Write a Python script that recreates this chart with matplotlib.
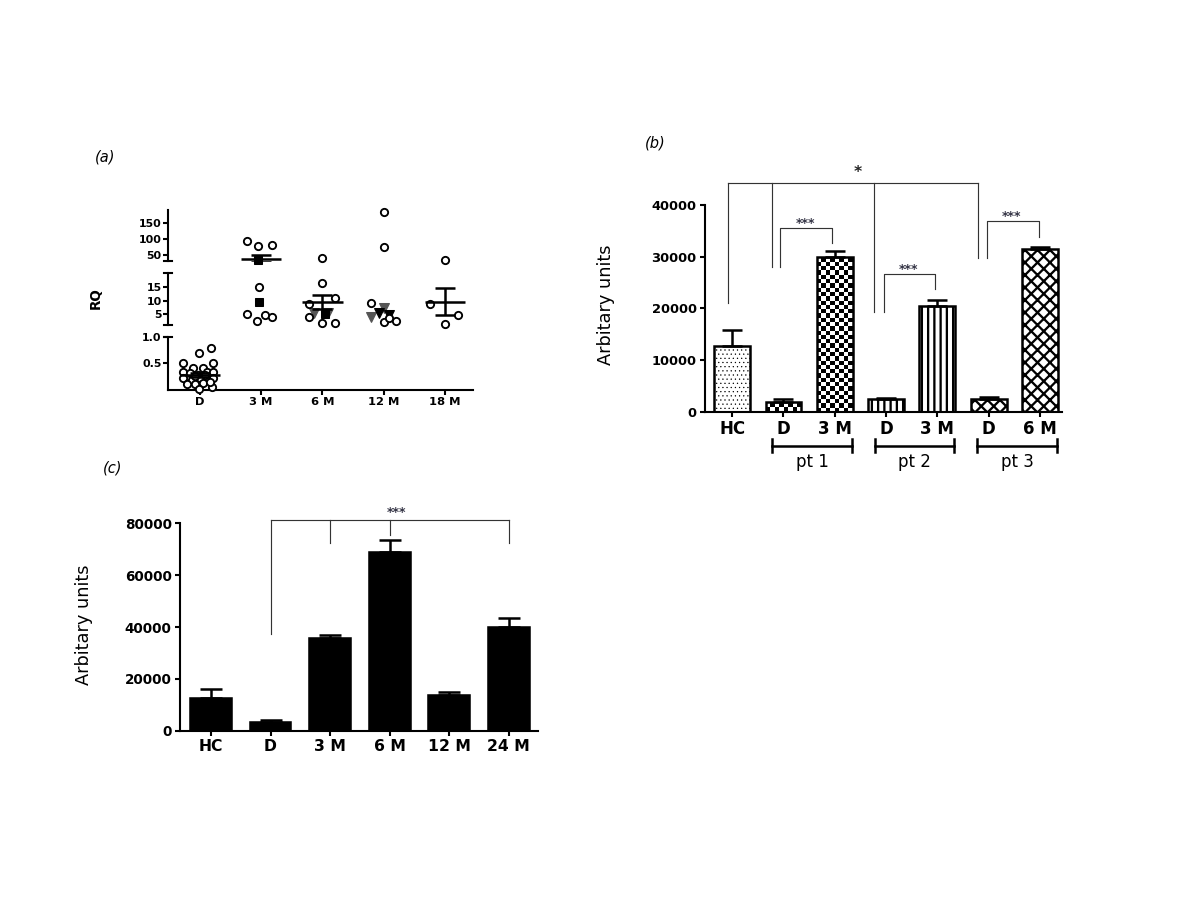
import numpy as np
import matplotlib.pyplot as plt

plt.rcParams['font.family'] = 'DejaVu Sans'
plt.rcParams['hatch.linewidth'] = 2.2
plt.rcParams['axes.linewidth'] = 2.0

# ---------- (a) RQ per time point, broken y axis ----------
a_groups = ['D', '3 M', '6 M', '12 M', '18 M']
a_values = [
    [0.78, 0.69, 0.50, 0.50, 0.40, 0.41, 0.34, 0.31, 0.28, 0.34, 0.34, 0.21, 0.18, 0.21,
     0.21, 0.21, 0.10, 0.10, 0.12, 0.04, 0.02, 0.28, 0.25, 0.14],
    [93, 78, 82, 32, 15.1, 9.3, 4.9, 2.5, 4.7, 4.0],
    [37.7, 16.3, 11.0, 8.6, 5.3, 5.3, 4.9, 4.0, 1.6, 1.6],
    [186, 75, 9.0, 7.1, 4.0, 5.3, 4.7, 2.2, 2.5, 3.5],
    [32.3, 8.6, 4.7, 1.3],
]
# horizontal spread of the points inside a column (category units)
a_offsets = [
    [0.18, -0.02, -0.28, 0.21, -0.11, 0.05, -0.28, -0.16, -0.03, 0.11, 0.21, -0.28, -0.13, 0.0,
     0.13, 0.21, -0.21, -0.08, 0.05, 0.20, -0.02, 0.08, -0.08, 0.16],
    [-0.23, -0.05, 0.18, -0.05, -0.03, -0.03, -0.23, -0.07, 0.07, 0.18],
    [0.0, 0.0, 0.20, -0.21, -0.13, 0.09, 0.05, -0.21, 0.0, 0.20],
    [0.0, 0.0, -0.21, 0.0, -0.21, -0.08, 0.09, 0.0, 0.20, 0.09],
    [0.0, -0.24, 0.22, 0.0],
]
# o = open circle, s = filled square, g = grey triangle, t = black triangle
a_kinds = [
    ['o'] * 24,
    ['o', 'o', 'o', 's', 'o', 's', 'o', 'o', 'o', 'o'],
    ['o', 'o', 'o', 'o', 'g', 'g', 's', 'o', 'o', 'o'],
    ['o', 'o', 'o', 'g', 'g', 't', 't', 'o', 'o', 'o'],
    ['o', 'o', 'o', 'o'],
]
a_means = [0.28, 37, 9.6, None, 9.6]
a_sems = [0.04, 11, 2.6, None, 4.9]

# ---------- (b) patients ----------
b_labels = ['HC', 'D', '3 M', 'D', '3 M', 'D', '6 M']
b_values = [12700, 1950, 30000, 2450, 20500, 2500, 31400]
b_errors = [3100, 450, 1150, 250, 1100, 400, 500]
b_patterns = ['...', 'checker', 'checker', '||', '||', 'xx', 'xx']
b_patients = ['pt 1', 'pt 2', 'pt 3']
b_patient_bars = [(1, 2), (3, 4), (5, 6)]
# significance brackets: (x left, x right, line y, left drop, right drop, text)
b_pairs = [(0.94, 1.94, 35470, 28050, 32570, '***'),
           (2.95, 3.96, 26630, 19340, 23670, '***'),
           (4.97, 5.98, 36890, 29670, 33850, '***')]
b_star_x = [-0.08, 0.78, 2.77, 4.80]
b_star_drop = [21000, 28050, 19340, 29670]
b_star_y = 44180

# ---------- (c) time course ----------
c_labels = ['HC', 'D', '3 M', '6 M', '12 M', '24 M']
c_values = [12700, 3250, 35600, 69000, 13750, 40100]
c_errors = [3250, 850, 1150, 4500, 1150, 3200]
c_star_x = [1, 2, 3, 5]
c_star_drop = [37500, 72450, 75400, 72450]
c_star_y = 81200

fig = plt.figure(figsize=(16, 12), dpi=75)

# ---- panel (a)
seg_pos = [[0.14, 0.5671, 0.2542, 0.0588],
           [0.14, 0.6389, 0.2542, 0.0574],
           [0.14, 0.7103, 0.2542, 0.0563]]
seg_lims = [(0, 1.0), (1, 20), (30, 193)]
seg_ticks = [[0.5, 1.0], [5, 10, 15], [50, 100, 150]]
seg_labels = [['0.5', '1.0'], ['5', '10', '15'], ['50', '100', '150']]
styles = {
    'o': dict(marker='o', mfc='white', mec='k', ms=7, mew=1.8),
    's': dict(marker='s', mfc='k', mec='k', ms=7, mew=1),
    'g': dict(marker='v', mfc='#555555', mec='#555555', ms=9, mew=1),
    't': dict(marker='v', mfc='k', mec='k', ms=9, mew=1),
}

segs = []
for k in range(3):
    ax = fig.add_axes(seg_pos[k])
    ax.set_xlim(-0.52, 4.46)
    ax.set_ylim(*seg_lims[k])
    ax.patch.set_alpha(0)
    for s in ['top', 'right']:
        ax.spines[s].set_visible(False)
    ax.set_yticks(seg_ticks[k])
    ax.set_yticklabels(seg_labels[k], fontweight='bold', fontsize=10.5)
    ax.tick_params(axis='y', length=5, width=2, pad=1)
    if k == 0:
        ax.set_xticks(range(len(a_groups)))
        ax.set_xticklabels(a_groups, fontweight='bold', fontsize=11)
        ax.tick_params(axis='x', length=5, width=2, pad=2)
    else:
        ax.spines['bottom'].set_visible(False)
        ax.set_xticks([])
    segs.append(ax)

# break caps on the broken spine
for k, ends in [(0, [1]), (1, [0, 1]), (2, [0])]:
    for e in ends:
        segs[k].plot([-0.013, 0.013], [e, e], color='k', lw=2,
                     transform=segs[k].transAxes, clip_on=False)


def seg_of(v):
    if v <= 1.0:
        return 0
    if v < 25:
        return 1
    return 2


for g in range(len(a_groups)):
    for v, off, kind in zip(a_values[g], a_offsets[g], a_kinds[g]):
        ax = segs[seg_of(v)]
        ax.plot(g + off, v, linestyle='none', clip_on=False,
                zorder=3 if kind == 'o' else 2, **styles[kind])
    if a_means[g] is not None:
        ax = segs[seg_of(a_means[g])]
        ax.hlines(a_means[g], g - 0.33, g + 0.33, color='k', lw=2.4, zorder=4)
        ax.errorbar(g, a_means[g], yerr=a_sems[g], fmt='none', ecolor='k',
                    elinewidth=2.4, capsize=10, capthick=2.4, zorder=4)

fig.text(96 / 1200, 1 - 298 / 900, 'RQ', rotation=90, fontweight='bold',
         fontsize=13, ha='center', va='center')


# ---- helpers for bar panels
def checker(ax, bar, nx=8, sq=830):
    x0, w, h = bar.get_x(), bar.get_width(), bar.get_height()
    ny = int(np.ceil(h / sq))
    pat = np.indices((ny, nx)).sum(axis=0) % 2
    im = ax.imshow(pat, cmap='gray', extent=(x0, x0 + w, 0, ny * sq), origin='lower',
                   aspect='auto', interpolation='nearest', zorder=0.5)
    im.set_clip_path(bar)


def style_bar_axis(ax, labels, top, xfs, yfs):
    for s in ['top', 'right']:
        ax.spines[s].set_visible(False)
    ax.spines['left'].set_bounds(0, top)
    ax.set_xticks(range(len(labels)))
    ax.set_xticklabels(labels, fontweight='bold', fontsize=xfs)
    ax.tick_params(axis='x', length=5, width=2, pad=3)
    ax.tick_params(axis='y', length=5, width=2, pad=3)
    for lab in ax.get_yticklabels():
        lab.set_fontweight('bold')
        lab.set_fontsize(yfs)


# ---- panel (b)
ax_b = fig.add_axes([0.5875, 0.5426, 0.2975, 0.2755])
ax_b.patch.set_alpha(0)
x_b = np.arange(len(b_labels))
bars = ax_b.bar(x_b, b_values, width=0.7, color='white', edgecolor='k', linewidth=2.4, zorder=1)
for bar, pat in zip(bars, b_patterns):
    if pat == 'checker':
        bar.set_facecolor('none')
        checker(ax_b, bar)
    else:
        bar.set_hatch(pat)
        if pat == '...' and hasattr(bar, 'set_hatch_linewidth'):
            bar.set_hatch_linewidth(0.5)
ax_b.errorbar(x_b, b_values, yerr=[np.zeros(len(b_values)), b_errors], fmt='none',
              ecolor='k', elinewidth=2.4, capsize=10, capthick=2.4, zorder=3)

ax_b.set_xlim(-0.53, 6.43)
ax_b.set_ylim(0, 48000)
ax_b.set_yticks([0, 10000, 20000, 30000, 40000])
style_bar_axis(ax_b, b_labels, 40000, 16, 12.5)

# overall bracket
line_kw = dict(color='#333333', lw=1.1, clip_on=False)
ax_b.plot([b_star_x[0], b_star_x[-1]], [b_star_y, b_star_y], **line_kw)
for xs, yd in zip(b_star_x, b_star_drop):
    ax_b.plot([xs, xs], [yd, b_star_y], **line_kw)
ax_b.text(2.44, b_star_y + 600, '*', ha='center', va='bottom', fontsize=15,
          fontweight='bold', color='#222222')
for xl, xr, yl, dl, dr, txt in b_pairs:
    ax_b.plot([xl, xl, xr, xr], [dl, yl, yl, dr], **line_kw)
    ax_b.text((xl + xr) / 2 - 0.02, yl - 300, txt, ha='center', va='bottom', fontsize=12,
              fontweight='bold', color='#333344')

# patient group brackets under the axis
tr = ax_b.get_xaxis_transform()
for name, (i0, i1) in zip(b_patients, b_patient_bars):
    xl, xr = i0 - 0.22, i1 + 0.33
    ax_b.plot([xl, xr], [-0.137, -0.137], color='k', lw=2.4, transform=tr, clip_on=False)
    for xe in (xl, xr):
        ax_b.plot([xe, xe], [-0.163, -0.111], color='k', lw=2.4, transform=tr, clip_on=False)
    ax_b.text((xl + xr) / 2, -0.2016, name, transform=tr, ha='center', va='center', fontsize=16)

ax_b.set_ylabel('Arbitary units', fontsize=17)
ax_b.yaxis.set_label_coords(-0.252, 0.43)

# ---- panel (c)
ax_c = fig.add_axes([0.15, 0.1881, 0.2983, 0.2534])
ax_c.patch.set_alpha(0)
x_c = np.arange(len(c_labels))
ax_c.bar(x_c, c_values, width=0.7, color='k', edgecolor='k', linewidth=1.5)
ax_c.errorbar(x_c, c_values, yerr=[np.zeros(len(c_values)), c_errors], fmt='none',
              ecolor='k', elinewidth=2.4, capsize=11, capthick=2.4, zorder=3)
ax_c.set_xlim(-0.52, 5.49)
ax_c.set_ylim(0, 88000)
ax_c.set_yticks([0, 20000, 40000, 60000, 80000])
style_bar_axis(ax_c, c_labels, 80000, 15, 13)

ax_c.plot([c_star_x[0], c_star_x[-1]], [c_star_y, c_star_y], **line_kw)
for xs, yd in zip(c_star_x, c_star_drop):
    ax_c.plot([xs, xs], [yd, c_star_y], **line_kw)
ax_c.text(3.12, c_star_y + 500, '***', ha='center', va='bottom', fontsize=12,
          fontweight='bold', color='#333344')

ax_c.set_ylabel('Arbitary units', fontsize=17)
ax_c.yaxis.set_label_coords(-0.243, 0.4636)

# panel letters
fig.text(105 / 1200, 1 - 157 / 900, '(a)', style='italic', fontsize=14, ha='center', va='center')
fig.text(655 / 1200, 1 - 143 / 900, '(b)', style='italic', fontsize=14, ha='center', va='center')
fig.text(113 / 1200, 1 - 468 / 900, '(c)', style='italic', fontsize=14, ha='center', va='center')

fig.savefig('out.png', dpi=75)
